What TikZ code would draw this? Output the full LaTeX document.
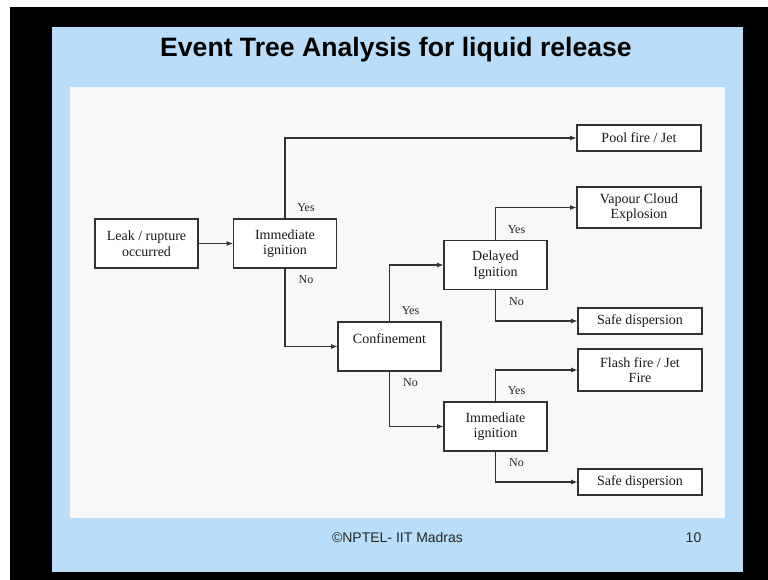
\documentclass[tikz,border=0pt]{standalone}
\usepackage{fontspec}
\setmainfont{Liberation Serif}
\newfontfamily\slidefont{Liberation Sans}
\usetikzlibrary{arrows.meta}
\definecolor{slideblue}{RGB}{186,221,249}
\definecolor{panelwhite}{RGB}{248,248,248}
\definecolor{inkgray}{RGB}{50,50,50}

\begin{document}
\begin{tikzpicture}[x=1pt, y=-1pt, >={Latex[length=7pt,width=5pt]},
    box/.style={draw=inkgray, line width=1.7pt, fill=white, align=center, inner sep=2pt, outer sep=0pt,
      font=\fontsize{14}{15.5}\selectfont, text=black!90},
    event/.style={box, minimum width=103pt, minimum height=49pt},
    outcome/.style={box, minimum width=124pt, minimum height=26pt},
    conn/.style={->, draw=inkgray, line width=1.5pt},
    lbl/.style={font=\fontsize{12}{12}\selectfont, text=black!85, inner sep=0pt}]
    % slide
    \fill[white] (0,0) rectangle (768,580);
    \fill[black] (10,7) rectangle (768,580);
    \fill[slideblue] (52,27) rectangle (743,572);
    \fill[panelwhite] (70,87) rectangle (725,518);
    \node[anchor=base, font=\slidefont\bfseries\fontsize{26.6}{30}\selectfont] (title) at (396,57) {Event Tree Analysis for liquid release};
    \node[anchor=base, font=\slidefont\fontsize{14}{16}\selectfont, text=black!85] (credit) at (397.5,542) {©NPTEL- IIT Madras};
    \node[anchor=base, font=\slidefont\fontsize{14}{16}\selectfont, text=black!85] (pagenum) at (693.5,542) {10};

    % events
    \node[event] (leak) at (146.5,243.5) {Leak / rupture\\occurred};
    \node[event] (ign1) at (285,243.5) {Immediate\\ignition};
    \node[event] (conf) at (389.5,346.5) {Confinement\\\mbox{}};
    \node[event] (delay) at (495.5,265) {Delayed\\Ignition};
    \node[event] (ign2) at (495.5,426.5) {Immediate\\ignition};

    % outcomes
    \node[outcome] (pool) at (639,138) {Pool fire / Jet};
    \node[outcome, minimum height=41pt] (vce) at (639,207.5) {Vapour Cloud\\Explosion};
    \node[outcome] (safe1) at (640,321) {Safe dispersion};
    \node[outcome, minimum height=42pt] (flash) at (640,370) {Flash fire / Jet\\Fire};
    \node[outcome] (safe2) at (640,482) {Safe dispersion};

    \draw[conn] (leak) -- (ign1);
    \draw[conn] (ign1.north) |- (pool);
    \draw[conn] (ign1.south) |- (conf);
    \draw[conn] (conf.north) |- (delay);
    \draw[conn] (conf.south) |- (ign2);
    \draw[conn] (delay.north) |- (vce);
    \draw[conn] (delay.south) |- (safe1);
    \draw[conn] (ign2.north) |- (flash);
    \draw[conn] (ign2.south) |- (safe2);

    \foreach \ev in {ign1, conf, delay, ign2} {
      \node[lbl] (\ev-yes) at ([shift={(21,-11)}]\ev.north) {Yes};
      \node[lbl] (\ev-no) at ([shift={(21,12)}]\ev.south) {No};
    }
\end{tikzpicture}
\end{document}
